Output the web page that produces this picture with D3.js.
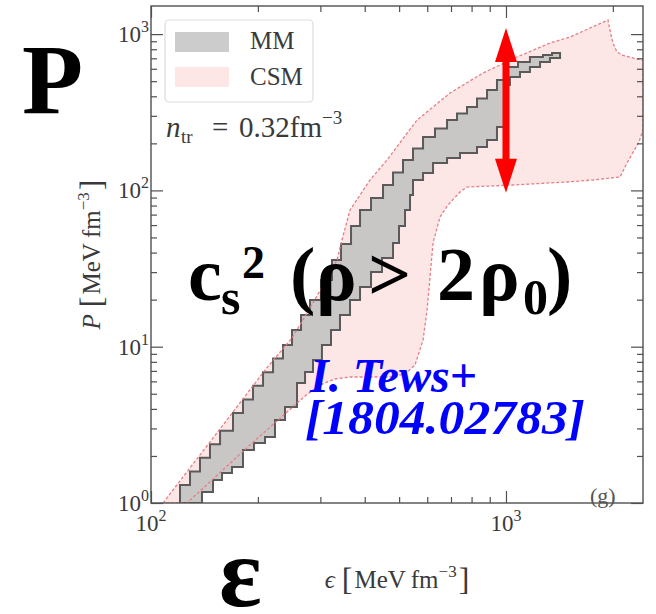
<!DOCTYPE html>
<html>
<head>
<meta charset="utf-8">
<script src="https://cdn.jsdelivr.net/npm/d3@7"></script>
<style>
  body { margin: 0; background: #fff; }
  svg { display: block; }
</style>
</head>
<body>
<script>
// ---------------- data (energy density eps [MeV fm^-3], pressure P [MeV fm^-3]) ----------------

// CSM envelope: upper boundary (left to right) and lower boundary (right to left)
const csmUpperEps = [108.1, 137.4, 170.2, 209.5, 249.6, 280.5, 309.1, 334.2, 345.1, 363.6, 388.0, 414.0, 462.2, 561.6, 695.6, 861.6, 1074, 1330, 1515, 1725, 1938, 1976, 2002, 2054, 2122, 2279, 2432];
const csmUpperP   = [1.0, 2.03, 3.82, 7.09, 11.37, 17.69, 25.94, 35.86, 48.17, 74.92, 93.45, 116.6, 156.5, 282.1, 419.9, 563.8, 713.8, 877.0, 958.0, 1094, 1231, 986.7, 877.0, 768.3, 735.2, 703.4, 683.0];
const csmLowerEps = [2432, 2370, 2192, 2095, 1758, 1485, 1046, 776.6, 742.1, 686.6, 651.9, 623.0, 611.0, 599.3, 583.9, 554.3, 519.5, 471.3, 363.6, 329.9, 299.2, 271.6, 190.0, 126.3];
const csmLowerP   = [243.5, 204.0, 149.7, 121.8, 116.6, 113.2, 108.3, 105.1, 97.68, 80.66, 67.57, 46.08, 27.92, 17.17, 11.04, 7.637, 6.688, 6.399, 6.399, 6.215, 5.689, 4.836, 2.35, 1.0];

// MM band: staircase edges, each entry = (eps where the step rises, new P level)
const mmUpperEps = [120.7, 128.8, 137.4, 146.6, 156.5, 170.2, 181.6, 193.8, 206.8, 220.7, 235.4, 249.6, 264.6, 280.5, 301.2, 323.5, 343.0, 366.0, 388.0, 416.7, 450.4, 480.6, 512.8, 547.1, 583.9, 631.0, 682.2, 727.8, 776.6, 828.7, 884.3, 943.2, 1006, 1081, 1168, 1271, 1348];
const mmUpperP   = [1.304, 1.593, 1.946, 2.378, 2.901, 3.765, 4.601, 5.622, 6.870, 8.393, 10.25, 12.79, 15.95, 19.89, 26.72, 35.86, 45.40, 59.19, 74.92, 89.41, 108.3, 130.2, 156.5, 185.4, 219.6, 248.9, 282.1, 310.5, 341.7, 387.3, 438.9, 508.5, 615.9, 663.0, 713.8, 735.2, 757.0];
const mmLowerEps = [120.7, 139.2, 149.5, 158.5, 169.1, 181.6, 195.0, 209.5, 223.5, 238.5, 257.8, 271.6, 286.0, 303.1, 321.4, 340.7, 363.6, 388.0, 416.7, 447.4, 480.6, 499.6, 519.5, 536.6, 547.1, 583.9, 623.0, 682.2, 742.1, 828.7, 884.3, 943.2, 993.6, 1026, 1095, 1168, 1247, 1330];
const mmLowerP   = [1.0, 1.176, 1.403, 1.556, 1.699, 2.183, 2.421, 2.644, 3.396, 4.114, 5.859, 6.889, 8.221, 10.25, 12.79, 15.95, 19.89, 24.10, 30.06, 36.94, 46.08, 59.19, 74.92, 93.45, 116.6, 129.3, 149.7, 161.2, 173.5, 189.5, 210.1, 254.5, 472.5, 531.5, 572.2, 615.9, 663.0, 703.4];
const mmEndEps = 1420;

// double arrow marking the spread at eps = 1000
const arrowEps = 1000;
const arrowP = [96.6, 1094];

// axes
const xDomain = [100, 2432];
const yDomain = [1, 1513];
const xMajorTicks = [100, 1000];
const xMinorTicks = [200, 300, 400, 500, 600, 700, 800, 900, 2000];
const yMajorTicks = [1, 10, 100, 1000];
const yMinorTicks = [2, 3, 4, 5, 6, 7, 8, 9, 20, 30, 40, 50, 60, 70, 80, 90, 200, 300, 400, 500, 600, 700, 800, 900];
const xTickExp = ["2", "3"];
const yTickExp = ["0", "1", "2", "3"];
const legendLabels = ["MM", "CSM"];

// ---------------- drawing ----------------
const W = 656, H = 614;
const plot = { left: 151, right: 643, top: 6, bottom: 503 };
const serif = "'Liberation Serif', 'Times New Roman', serif";
const ink = "#3a3a3a";

const svg = d3.select("body").append("svg")
  .attr("width", W).attr("height", H)
  .attr("font-family", serif);

const x = d3.scaleLog().domain(xDomain).range([plot.left, plot.right]);
const y = d3.scaleLog().domain(yDomain).range([plot.bottom, plot.top]);

svg.append("clipPath").attr("id", "plot-clip")
  .append("rect")
  .attr("x", plot.left).attr("y", plot.top)
  .attr("width", plot.right - plot.left).attr("height", plot.bottom - plot.top);

const data = svg.append("g").attr("clip-path", "url(#plot-clip)");
const line = d3.line().x(d => x(d[0])).y(d => y(d[1]));

// CSM envelope polygon
const csmPoly = csmUpperEps.map((e, i) => [e, csmUpperP[i]])
  .concat(csmLowerEps.map((e, i) => [e, csmLowerP[i]]));
data.append("path")
  .attr("d", line(csmPoly) + "Z")
  .attr("fill", "#fde6e6");

// staircase corners: rise at each eps, then run to the next one
function stairs(epsArr, pArr, epsEnd, pStart) {
  const pts = [];
  let prev = pStart;
  epsArr.forEach((e, i) => {
    pts.push([e, prev]);
    pts.push([e, pArr[i]]);
    prev = pArr[i];
  });
  pts.push([epsEnd, prev]);
  return pts;
}
const mmUpper = stairs(mmUpperEps, mmUpperP, mmEndEps, 1);
const mmLower = stairs(mmLowerEps, mmLowerP, mmEndEps, 1);
const mmPoly = mmUpper.concat(mmLower.slice().reverse());
data.append("path")
  .attr("d", line(mmPoly) + "Z")
  .attr("fill", "#c9c6c6")
  .attr("stroke", "#5a5a5a")
  .attr("stroke-width", 2)
  .attr("stroke-linejoin", "miter");

// CSM dashed outline on top
data.append("path")
  .attr("d", line(csmPoly) + "Z")
  .attr("fill", "none")
  .attr("stroke", "#e57f86")
  .attr("stroke-width", 1.3)
  .attr("stroke-dasharray", "3,2");

// frame
svg.append("rect")
  .attr("x", plot.left).attr("y", plot.top)
  .attr("width", plot.right - plot.left).attr("height", plot.bottom - plot.top)
  .attr("fill", "none").attr("stroke", "#505050").attr("stroke-width", 1.4);

// inward ticks on all four sides
function tickAxis(axisFn, scale, values, size, transform) {
  const g = svg.append("g").attr("transform", transform)
    .call(axisFn(scale).tickValues(values).tickSize(-size).tickFormat(""));
  g.select(".domain").remove();
  g.selectAll("line").attr("stroke", "#505050").attr("stroke-width", 1.2);
}
tickAxis(d3.axisBottom, x, xMajorTicks, 12, `translate(0,${plot.bottom})`);
tickAxis(d3.axisBottom, x, xMinorTicks, 6, `translate(0,${plot.bottom})`);
tickAxis(d3.axisTop, x, xMajorTicks, 12, `translate(0,${plot.top})`);
tickAxis(d3.axisTop, x, xMinorTicks, 6, `translate(0,${plot.top})`);
tickAxis(d3.axisLeft, y, yMajorTicks, 12, `translate(${plot.left},0)`);
tickAxis(d3.axisLeft, y, yMinorTicks, 6, `translate(${plot.left},0)`);
tickAxis(d3.axisRight, y, yMajorTicks, 12, `translate(${plot.right},0)`);
tickAxis(d3.axisRight, y, yMinorTicks, 6, `translate(${plot.right},0)`);

// tick labels 10^k
xMajorTicks.forEach((v, i) => {
  const t = svg.append("text").attr("x", x(v)).attr("y", 531)
    .attr("text-anchor", "middle").attr("font-size", 23).attr("fill", ink);
  t.append("tspan").text("10");
  t.append("tspan").attr("dy", -10).attr("font-size", 16).text(xTickExp[i]);
});
yMajorTicks.forEach((v, i) => {
  const t = svg.append("text").attr("x", plot.left - 2).attr("y", y(v) + 8)
    .attr("text-anchor", "end").attr("font-size", 23).attr("fill", ink);
  t.append("tspan").text("10");
  t.append("tspan").attr("dy", -10).attr("font-size", 16).text(yTickExp[i]);
});

// axis titles: symbol [MeV fm^-3]
function unitTitle(sel, sym) {
  sel.append("tspan").attr("font-style", "italic").text(sym);
  sel.append("tspan").attr("dx", 7).attr("font-size", 32).attr("dy", 2).text("[");
  sel.append("tspan").attr("dx", 2).attr("dy", -2).text("MeV");
  sel.append("tspan").attr("dx", 5).text("fm");
  sel.append("tspan").attr("dy", -11).attr("font-size", 17).text("−3");
  sel.append("tspan").attr("dx", 2).attr("dy", 13).attr("font-size", 32).text("]");
}
const xt = svg.append("text").attr("x", (plot.left + plot.right) / 2).attr("y", 588)
  .attr("text-anchor", "middle").attr("font-size", 25).attr("fill", ink);
unitTitle(xt, "ϵ");

const yt = svg.append("text")
  .attr("transform", `translate(100,${(plot.top + plot.bottom) / 2}) rotate(-90)`)
  .attr("text-anchor", "middle").attr("font-size", 25).attr("fill", ink);
unitTitle(yt, "P");

// legend
const lg = svg.append("g");
lg.append("rect").attr("x", 165).attr("y", 20).attr("width", 148).attr("height", 82)
  .attr("rx", 4).attr("fill", "#fff").attr("fill-opacity", 0.85)
  .attr("stroke", "#dddddd").attr("stroke-width", 1.2);
const swatch = ["#cccccc", "#fde6e6"];
legendLabels.forEach((lab, i) => {
  lg.append("rect").attr("x", 175).attr("y", 32 + i * 35).attr("width", 54).attr("height", 20)
    .attr("fill", swatch[i]);
  lg.append("text").attr("x", 250).attr("y", 49 + i * 36).attr("font-size", 25)
    .attr("fill", ink).text(lab);
});

// transition density note
const nt = svg.append("text").attr("y", 137).attr("font-size", 29).attr("fill", ink);
nt.append("tspan").attr("x", 166).attr("font-style", "italic").text("n");
nt.append("tspan").attr("x", 181).attr("dy", 6).attr("font-size", 19).text("tr");
nt.append("tspan").attr("x", 212).attr("dy", -6).text("=");
nt.append("tspan").attr("x", 239).text("0.32fm");
nt.append("tspan").attr("dy", -13).attr("font-size", 19).text("−3");

// panel tag
svg.append("text").attr("x", 590).attr("y", 503).attr("font-size", 22)
  .attr("fill", "#555").text("(g)");

// red double arrow
const ax = x(arrowEps), yLo = y(arrowP[0]), yHi = y(arrowP[1]);
const headL = 34, headW = 11;
const ar = svg.append("g").attr("fill", "#ff0000");
ar.append("rect").attr("x", ax - 3.5).attr("y", yHi + headL - 2).attr("width", 7)
  .attr("height", (yLo - headL) - (yHi + headL) + 4);
ar.append("path").attr("d", `M${ax},${yHi} L${ax + headW},${yHi + headL} L${ax - headW},${yHi + headL}Z`);
ar.append("path").attr("d", `M${ax},${yLo} L${ax + headW},${yLo - headL} L${ax - headW},${yLo - headL}Z`);

// large annotations
const big = svg.append("g").attr("font-weight", "bold").attr("fill", "#000");
big.append("text").attr("x", 22).attr("y", 113).attr("font-size", 100).text("P");
big.append("text").attr("x", 219).attr("y", 606).attr("font-size", 100).text("ε");

const cs = big.append("text").attr("y", 300).attr("font-size", 76);
cs.append("tspan").attr("x", 188).text("c");
cs.append("tspan").attr("x", 221).attr("dy", 14).attr("font-size", 50).text("s");
cs.append("tspan").attr("x", 242).attr("dy", -36).attr("font-size", 46).text("2");
cs.append("tspan").attr("x", 290).attr("dy", 22).text("(");
cs.append("tspan").attr("x", 316).text("ρ");
cs.append("tspan").attr("x", 368).text(">");
cs.append("tspan").attr("x", 437).text("2");
cs.append("tspan").attr("x", 479).text("ρ");
cs.append("tspan").attr("x", 523).attr("dy", 14).attr("font-size", 50).text("0");
cs.append("tspan").attr("x", 547).attr("dy", -14).text(")");

const ref = svg.append("g").attr("fill", "#0000ff").attr("font-weight", "bold")
  .attr("font-style", "italic").attr("font-size", 48);
ref.append("text").attr("x", 310).attr("y", 392).text("I. Tews+");
ref.append("text").attr("x", 305).attr("y", 434)
  .attr("textLength", 280).attr("lengthAdjust", "spacingAndGlyphs").text("[1804.02783]");
</script>
</body>
</html>
